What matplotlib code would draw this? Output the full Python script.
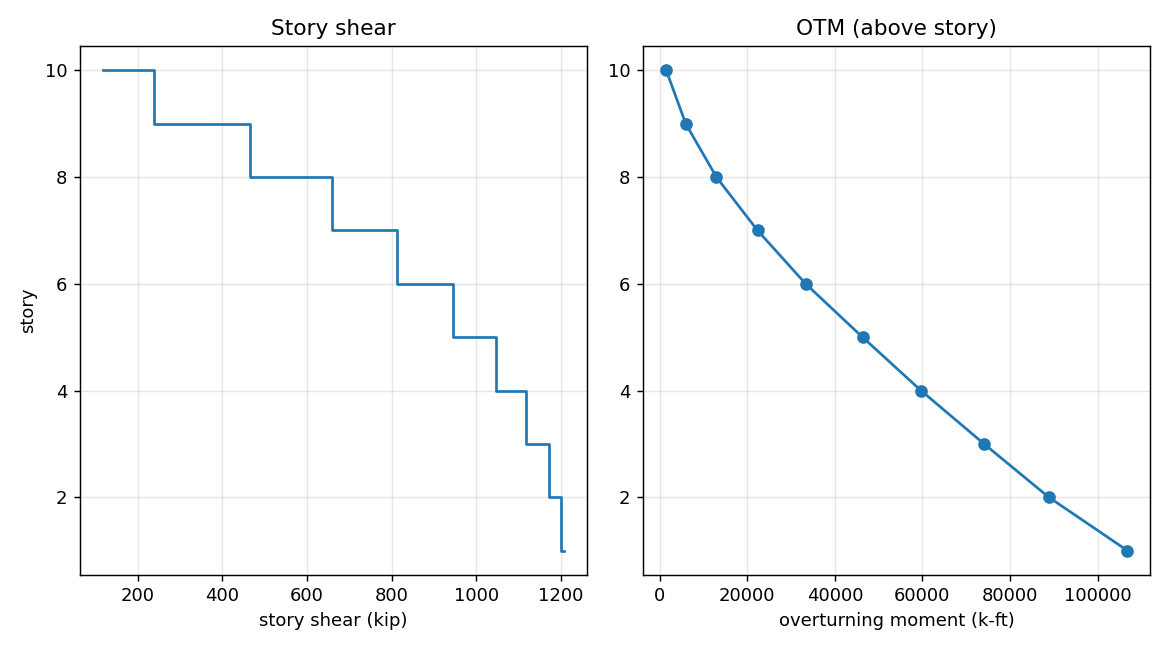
import matplotlib

matplotlib.use("Agg")
import matplotlib.pyplot as plt

stories = [10, 9, 8, 7, 6, 5, 4, 3, 2, 1]
story_shear = [118, 360, 572, 744, 882, 1008, 1084, 1152, 1192, 1208]
otm_above = [1510, 5950, 12960, 22350, 33340, 46330, 59680, 74080, 88880, 106830]

figure, (ax_shear, ax_otm) = plt.subplots(1, 2, figsize=(9, 5), dpi=130)

ax_shear.step(story_shear, stories, where="mid")
ax_shear.set_title("Story shear")
ax_shear.set_xlabel("story shear (kip)")
ax_shear.set_ylabel("story")
ax_shear.grid(True, alpha=0.3)

ax_otm.plot(otm_above, stories, marker="o")
ax_otm.set_title("OTM (above story)")
ax_otm.set_xlabel("overturning moment (k-ft)")
ax_otm.grid(True, alpha=0.3)

figure.tight_layout()
figure.savefig("out.png", dpi=130)
plt.close(figure)
